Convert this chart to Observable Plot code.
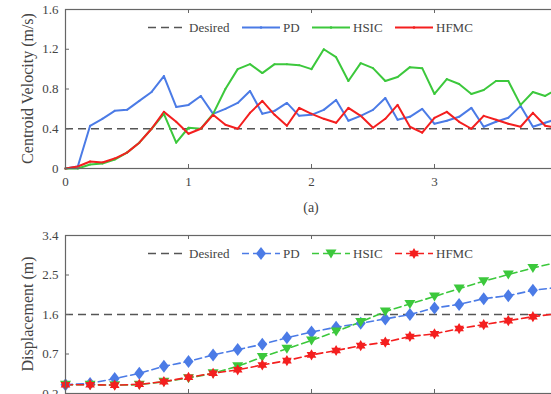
<!DOCTYPE html>
<html><head><meta charset="utf-8">
<script src="https://cdn.jsdelivr.net/npm/d3@7"></script>
<script src="https://cdn.jsdelivr.net/npm/@observablehq/plot@0.6"></script>
<style>
html,body{margin:0;padding:0;width:551px;height:394px;overflow:hidden;background:#fff;}
#wrap{position:relative;width:551px;height:394px;overflow:hidden;font-family:"Liberation Serif","Times New Roman",serif;}
.panel{position:absolute;left:0;width:600px;}
.panel svg{max-width:none !important;width:600px;}
#overlay{position:absolute;left:0;top:0;pointer-events:none;}
</style></head><body><div id="wrap"><div id="p1" class="panel" style="top:0"></div><div id="p2" class="panel" style="top:226px"></div></div>
<script>
// ---- data ----
const timeV = [0,0.1,0.2,0.3,0.4,0.5,0.6,0.7,0.8,0.9,1.0,1.1,1.2,1.3,1.4,1.5,1.6,1.7,1.8,1.9,2.0,2.1,2.2,2.3,2.4,2.5,2.6,2.7,2.8,2.9,3.0,3.1,3.2,3.3,3.4,3.5,3.6,3.7,3.8,3.9,4.0];
const pdVel   = [0,0.02,0.43,0.50,0.58,0.59,0.68,0.77,0.93,0.62,0.64,0.73,0.55,0.60,0.66,0.78,0.55,0.58,0.66,0.53,0.54,0.59,0.69,0.48,0.53,0.59,0.71,0.49,0.52,0.60,0.45,0.48,0.52,0.61,0.42,0.47,0.51,0.63,0.42,0.46,0.50];
const hsicVel = [0,0.00,0.04,0.05,0.09,0.16,0.26,0.40,0.55,0.26,0.41,0.40,0.55,0.80,1.00,1.05,0.96,1.05,1.05,1.04,1.00,1.20,1.12,0.88,1.06,1.01,0.88,0.92,1.02,1.01,0.75,0.90,0.85,0.75,0.79,0.88,0.88,0.64,0.77,0.73,0.80];
const hfmcVel = [0,0.02,0.07,0.06,0.10,0.16,0.26,0.40,0.57,0.47,0.35,0.40,0.54,0.44,0.40,0.56,0.68,0.54,0.43,0.61,0.55,0.50,0.46,0.61,0.53,0.41,0.50,0.64,0.42,0.36,0.51,0.57,0.47,0.40,0.53,0.49,0.45,0.42,0.56,0.43,0.41];
const desiredVel = 0.4;

const timeD = [0,0.2,0.4,0.6,0.8,1.0,1.2,1.4,1.6,1.8,2.0,2.2,2.4,2.6,2.8,3.0,3.2,3.4,3.6,3.8,4.0];
const pdDisp   = [0.00,0.03,0.14,0.26,0.42,0.53,0.68,0.80,0.92,1.07,1.20,1.31,1.40,1.50,1.60,1.75,1.83,1.96,2.03,2.15,2.22];
const hsicDisp = [0.00,0.00,-0.01,0.00,0.07,0.15,0.26,0.42,0.63,0.82,1.01,1.21,1.43,1.67,1.84,2.01,2.19,2.36,2.51,2.66,2.79];
const hfmcDisp = [0.00,0.00,-0.01,0.01,0.07,0.17,0.26,0.34,0.45,0.55,0.68,0.78,0.89,0.97,1.10,1.16,1.28,1.37,1.46,1.55,1.62];
const desiredDisp = 1.6;

const xTicks = [0,1,2,3,4];
const xTickLabels = [0,1,2,3];
const velTicks = [0,0.4,0.8,1.2,1.6];
const dispTicks = [-0.2,0.7,1.6,2.5,3.4];
const legendNames = ["Desired","PD","HSIC","HFMC"];
const seriesColors = ["#4b7be6","#3cc83c","#f41f1f"];
const desiredColor = "#555";
const velLabel = "Centroid Velocity (m/s)";
const dispLabel = "Displacement (m)";
const panelTag = "(a)";

// ---- marker symbols ----
const diamondSym = {draw(c){ c.moveTo(0,-6.5); c.lineTo(5,0); c.lineTo(0,6.5); c.lineTo(-5,0); c.closePath(); }};
const triDownSym = {draw(c){ c.moveTo(-5.5,-4); c.lineTo(5.5,-4); c.lineTo(0,5); c.closePath(); }};
const hexSym = {draw(c){ const R=5.6, r=R*0.58; for(let i=0;i<12;i++){ const a=Math.PI/6*i-Math.PI/2; const rr=i%2?r:R; const x=rr*Math.cos(a), y=rr*Math.sin(a); if(i) c.lineTo(x,y); else c.moveTo(x,y);} c.closePath(); }};
const symbols = [diamondSym, triDownSym, hexSym];

const style = {fontFamily:'"Liberation Serif","Times New Roman",serif', fontSize:"13px", color:"#444", background:"transparent", overflow:"visible", maxWidth:"none"};
const frameColor = "#666";

// ---- top panel ----
const velSeries = [pdVel, hsicVel, hfmcVel];
const p1 = Plot.plot({
  width:600, height:200, marginLeft:65, marginRight:43, marginTop:9, marginBottom:32,
  style,
  x:{domain:[0,4]}, y:{domain:[0,1.6]},
  marks:[
    Plot.ruleY([desiredVel], {stroke:desiredColor, strokeWidth:1.6, strokeDasharray:"8,5"}),
    ...velSeries.map((s,i)=>Plot.line(s,{x:timeV, y:s, stroke:seriesColors[i], strokeWidth:2})),
    ...velSeries.map((s,i)=>Plot.dot(s,{x:timeV, y:s, fill:seriesColors[i], r:1})),
    Plot.frame({stroke:frameColor, strokeWidth:1.2}),
    Plot.ruleX(xTicks, {insetBottom:155, stroke:frameColor}),
    Plot.ruleX(xTicks, {insetTop:155, stroke:frameColor}),
    Plot.ruleY(velTicks, {insetRight:488, stroke:frameColor}),
    Plot.axisX(xTickLabels, {tickSize:0, tickPadding:8, label:null, fontSize:13, tickFormat:d=>String(d)}),
    Plot.axisY(velTicks, {tickSize:0, tickPadding:7, label:null, fontSize:13, tickFormat:d=>String(d)})
  ]
});
document.getElementById("p1").appendChild(p1);

// ---- bottom panel ----
const dispSeries = [pdDisp, hsicDisp, hfmcDisp];
const p2 = Plot.plot({
  width:600, height:168, marginLeft:65, marginRight:43, marginTop:9, marginBottom:1,
  style,
  x:{domain:[0,4], axis:null}, y:{domain:[-0.2,3.4]},
  marks:[
    Plot.ruleY([desiredDisp], {stroke:desiredColor, strokeWidth:1.6, strokeDasharray:"8,5"}),
    ...dispSeries.map((s,i)=>Plot.line(s,{x:timeD, y:s, stroke:seriesColors[i], strokeWidth:1.6, strokeDasharray:"7,4"})),
    ...dispSeries.map((s,i)=>Plot.dot(s,{x:timeD, y:s, fill:seriesColors[i], symbol:symbols[i], r:4})),
    Plot.frame({stroke:frameColor, strokeWidth:1.2}),
    Plot.ruleX(xTicks, {insetBottom:154, stroke:frameColor}),
    Plot.ruleX(xTicks, {insetTop:154, stroke:frameColor}),
    Plot.ruleY(dispTicks, {insetRight:488, stroke:frameColor}),
    Plot.axisY(dispTicks, {tickSize:0, tickPadding:7, label:null, fontSize:13, tickFormat:d=>String(d)})
  ]
});
document.getElementById("p2").appendChild(p2);

// ---- overlay: titles, tag, legends ----
const svg = d3.select("#wrap").append("svg").attr("id","overlay").attr("width",551).attr("height",394)
  .style("font-family",'"Liberation Serif","Times New Roman",serif');
svg.append("text").attr("transform","translate(27,88.5) rotate(-90)").attr("text-anchor","middle").attr("dominant-baseline","central")
  .attr("font-size",16).attr("fill","#444").text(velLabel);
svg.append("text").attr("transform","translate(27,314) rotate(-90)").attr("text-anchor","middle").attr("dominant-baseline","central")
  .attr("font-size",16).attr("fill","#444").text(dispLabel);
svg.append("text").attr("x",311).attr("y",207).attr("text-anchor","middle").attr("dominant-baseline","central")
  .attr("font-size",14).attr("fill","#444").text(panelTag);

const legX = [148,242,312,395];
function legend(y, dashed, withSymbols){
  legendNames.forEach((name,i)=>{
    const x0 = legX[i], x1 = x0+38;
    const col = i===0 ? desiredColor : seriesColors[i-1];
    const dash = i===0 ? "8,5" : (dashed ? "7,4" : null);
    svg.append("line").attr("x1",x0).attr("x2",x1).attr("y1",y).attr("y2",y)
      .attr("stroke",col).attr("stroke-width", i===0?1.6:(dashed?1.6:2)).attr("stroke-dasharray",dash);
    if(i>0){
      if(withSymbols){
        svg.append("path").attr("d", d3.symbol(symbols[i-1])()).attr("transform",`translate(${(x0+x1)/2},${y})`).attr("fill",col);
      } else {
        svg.append("circle").attr("cx",(x0+x1)/2).attr("cy",y).attr("r",1.3).attr("fill",col);
      }
    }
    svg.append("text").attr("x",x1+3).attr("y",y).attr("dominant-baseline","central").attr("font-size",13).attr("fill","#444").text(name);
  });
}
legend(27.5, false, false);
legend(253.5, true, true);
</script></body></html>
